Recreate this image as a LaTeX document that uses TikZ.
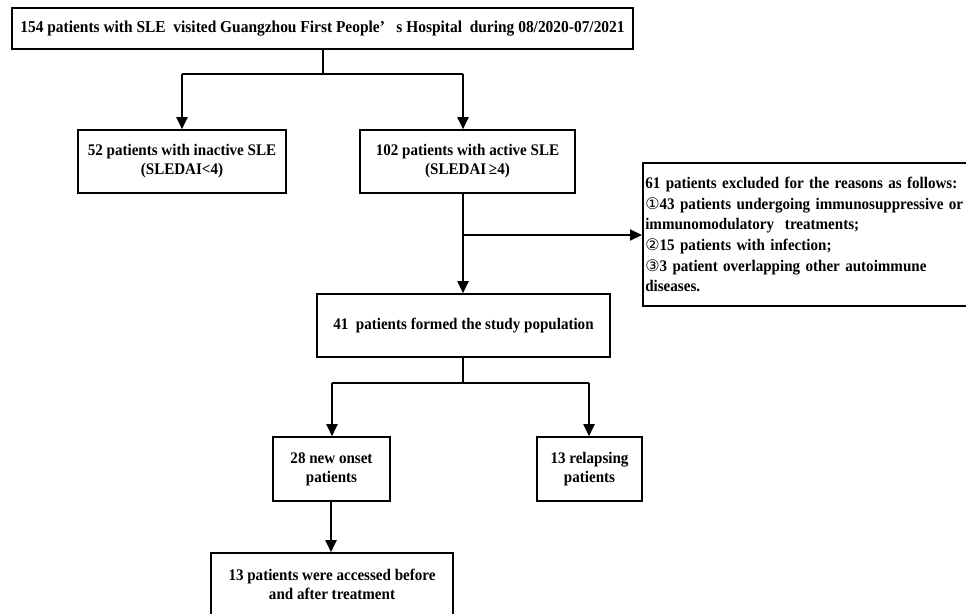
\documentclass[tikz,border=0pt]{standalone}
\usepackage{fontspec}
\setmainfont{Liberation Serif}[FakeStretch=0.93]
\newfontfamily\circfont{DejaVu Sans}
\usetikzlibrary{arrows.meta}
\tikzset{
  box/.style={draw=black, line width=1.6pt, inner sep=0pt, align=center,
    font=\bfseries\fontsize{16.2}{19}\selectfont},
  conn/.style={draw=black, line width=1.9pt},
  arr/.style={conn, -{Triangle[width=11pt,length=12pt]}},
}
\newcommand{\circd}[1]{{\circfont\mdseries\fontsize{16}{19}\selectfont #1}}
\begin{document}
\begin{tikzpicture}[x=1pt,y=-1pt]
\useasboundingbox (0,0) rectangle (966,613);
\fill[white] (0,0) rectangle (966,613);

\node[box, minimum width=621pt, minimum height=41pt, font=\bfseries\fontsize{16.6}{19}\selectfont] (top) at (322.5,28.5)
  {154 patients with SLE\ \ visited Guangzhou First People’\ \ \ s Hospital\ \ during 08/2020-07/2021};

\node[box, minimum width=208pt, minimum height=63pt] (inact) at (182,161.5)
  {52 patients with inactive SLE\\(SLEDAI<4)};
\node[box, minimum width=215pt, minimum height=63pt] (act) at (467.5,161.5)
  {102 patients with active SLE\\(SLEDAI\,≥4)};

\node[box, anchor=west, minimum width=340pt, minimum height=143pt, align=left,
  text width=335pt, inner xsep=1.5pt, font=\bfseries\fontsize{16.2}{20.7}\selectfont] (excl) at (642,234.5)
  {61 patients excluded for the reasons as follows:\\
   \circd{①}43 patients undergoing immunosuppressive or\\
   immunomodulatory\ \ treatments;\\
   \circd{②}15 patients with infection;\\
   \circd{③}3 patient overlapping other autoimmune\\
   diseases.};

\node[box, minimum width=293pt, minimum height=63pt] (study) at (463.5,325.5)
  {41\ \ patients formed the study population};

\node[box, minimum width=117pt, minimum height=64pt] (newon) at (331.5,469)
  {28 new onset\\patients};
\node[box, minimum width=105pt, minimum height=64pt] (relap) at (589.5,469)
  {13 relapsing\\patients};

\node[box, minimum width=242pt, minimum height=63pt] (final) at (332,584.5)
  {13 patients were accessed before\\and after treatment};

% connectors
\coordinate (j1) at (323,74);
\coordinate (j1l) at (182,74);
\coordinate (j1r) at (463,74);
\draw[conn] (323,0 |- top.south) -- (j1);
\draw[conn] (j1l) -- (j1r);
\draw[arr] (j1l) -- (j1l |- inact.north);
\draw[arr] (j1r) -- (j1r |- act.north);

\coordinate (j2) at (463,235);
\draw[arr] (463,0 |- act.south) -- (463,0 |- study.north);
\draw[arr] (j2) -- (j2 -| excl.west);

\coordinate (j3) at (463,383);
\coordinate (j3l) at (332,383);
\coordinate (j3r) at (589,383);
\draw[conn] (463,0 |- study.south) -- (j3);
\draw[conn] (j3l) -- (j3r);
\draw[arr] (j3l) -- (j3l |- newon.north);
\draw[arr] (j3r) -- (j3r |- relap.north);

\coordinate (j4) at (331,0 |- newon.south);
\draw[arr] (j4) -- (j4 |- final.north);
\end{tikzpicture}
\end{document}
